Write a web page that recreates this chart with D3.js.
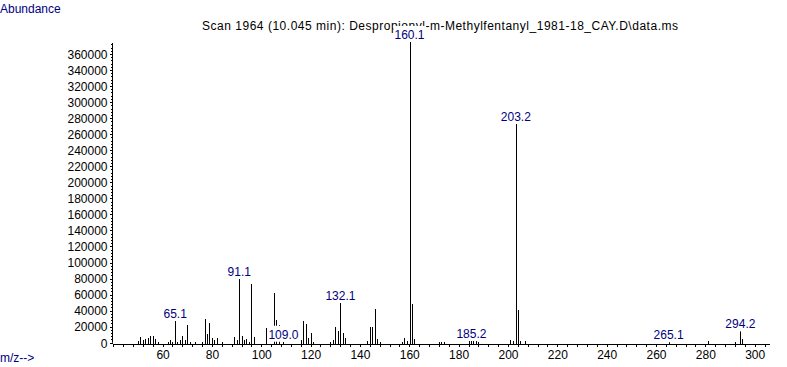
<!DOCTYPE html>
<html lang="en">
<head>
<meta charset="utf-8">
<title>Mass spectrum</title>
<script src="https://cdnjs.cloudflare.com/ajax/libs/d3/7.8.5/d3.min.js"></script>
<style>
  body { margin: 0; background: #fff; }
  svg text { font-family: "Liberation Sans", Arial, sans-serif; font-size: 12px; }
  .axis path, .axis line { stroke: #000; shape-rendering: crispEdges; }
  .axis text { fill: #000; }
  .blue { fill: #000080; }
</style>
</head>
<body>
<div id="chart"></div>
<script>
const width = 787, height = 367;

// m/z of every peak and its abundance
const mz = [50, 51, 52, 53, 54, 55, 56, 57, 58, 62, 63, 64, 65.1, 66, 67, 68, 69, 70, 71, 73,
  76, 77, 78, 79, 80, 81, 82, 84, 89, 90, 91.1, 92, 93, 94, 95, 96, 97, 102, 105.1, 106, 107,
  109.0, 116, 117, 118, 119, 120, 121, 128, 129, 130, 131, 132.1, 133, 134, 143, 144, 145, 146,
  147, 148, 157, 158, 159, 160.1, 161, 162, 172, 173, 174, 184, 185.2, 186, 187, 188, 201, 202,
  203.2, 204, 205, 207, 265.1, 281, 292, 294.2, 295];
const abundance = [1600, 7100, 3300, 4600, 5900, 7900, 8300, 4600, 1200, 1200, 3300, 1200, 27000,
  1200, 3700, 8300, 2900, 22000, 1200, 1200, 1200, 29500, 10800, 24900, 6200, 3300, 5900, 1200,
  7100, 3300, 79400, 8300, 2900, 4600, 1200, 73600, 7100, 18300, 61500, 28300, 22000, 1200, 3300,
  27000, 23300, 5900, 12100, 1200, 1200, 3300, 19600, 15000, 49500, 12500, 6200, 2500, 19600,
  19600, 42000, 5000, 1200, 1200, 5900, 2100, 375000, 48600, 4600, 1200, 1200, 800, 2100, 2100,
  2100, 2100, 800, 3300, 2100, 272700, 40700, 2100, 2100, 600, 1600, 1200, 14100, 4100];

// peaks that carry a label
const labelled = [65.1, 91.1, 109.0, 132.1, 160.1, 185.2, 203.2, 265.1, 294.2];

const xTicks = d3.range(60, 301, 20);
const yTicks = d3.range(0, 360001, 20000);
const title = "Scan 1964 (10.045 min): Despropionyl-m-Methylfentanyl_1981-18_CAY.D\\data.ms";

const peaks = mz.map((m, i) => ({mz: m, ab: abundance[i]}));

const x = d3.scaleLinear().domain([39.5, 305.8]).range([112, 769]);
const y = d3.scaleLinear().domain([0, 373700]).range([342.7, 43]);

const svg = d3.select("#chart").append("svg")
  .attr("width", width)
  .attr("height", height);

// y axis: labelled ticks plus small ones
svg.append("g")
  .attr("class", "axis")
  .attr("transform", "translate(112.5,0)")
  .call(d3.axisLeft(y).tickValues(d3.range(0, 373700, 4000)).tickSize(2).tickFormat(""))
  .call(g => g.select(".domain").remove());

svg.append("g")
  .attr("class", "axis")
  .attr("transform", "translate(112.5,0)")
  .call(d3.axisLeft(y).tickValues(yTicks).tickSize(3).tickPadding(2).tickFormat(d3.format("d")))
  .call(g => g.select(".domain").remove())
  .call(g => g.selectAll("text").attr("dy", "0.36em"));

svg.append("line")
  .attr("class", "axis")
  .attr("x1", 112.5).attr("x2", 112.5)
  .attr("y1", y(0)).attr("y2", y.range()[1])
  .attr("stroke", "#000");

// x axis
svg.append("g")
  .attr("class", "axis")
  .attr("transform", `translate(0,${Math.round(y(0)) + 0.5})`)
  .call(d3.axisBottom(x).tickValues(d3.range(40, 306, 4)).tickSize(3).tickSizeOuter(0).tickFormat(""));

svg.append("g")
  .attr("class", "axis")
  .attr("transform", `translate(0,${Math.round(y(0)) + 0.5})`)
  .call(d3.axisBottom(x).tickValues(xTicks).tickSize(3).tickPadding(4))
  .call(g => g.select(".domain").remove());

// title
svg.append("text")
  .attr("x", 202)
  .attr("y", 30)
  .attr("fill", "#000")
  .attr("textLength", 476)
  .attr("lengthAdjust", "spacing")
  .text(title);

// peaks
svg.append("g")
  .selectAll("line")
  .data(peaks)
  .join("line")
  .attr("x1", d => Math.round(x(d.mz)) + 0.5)
  .attr("x2", d => Math.round(x(d.mz)) + 0.5)
  .attr("y1", Math.round(y(0)) + 0.5)
  .attr("y2", d => y(d.ab))
  .attr("stroke", "#000")
  .attr("stroke-width", 1)
  .attr("shape-rendering", "crispEdges");

// peak labels, each on a white box that hides what is behind it
const labels = svg.append("g")
  .selectAll("g")
  .data(peaks.filter(d => labelled.includes(d.mz)))
  .join("g");

labels.append("text")
  .attr("class", "blue")
  .attr("x", d => x(d.mz))
  .attr("y", d => y(d.ab) - 3)
  .attr("text-anchor", "middle")
  .text(d => d.mz.toFixed(1));

labels.each(function() {
  const g = d3.select(this);
  const b = g.select("text").node().getBBox();
  g.insert("rect", "text")
    .attr("x", b.x - 1)
    .attr("y", b.y - 2)
    .attr("width", b.width + 2)
    .attr("height", b.height + 2)
    .attr("fill", "#fff");
});

svg.append("text").attr("class", "blue").attr("x", 0).attr("y", 13).text("Abundance");
svg.append("text").attr("class", "blue").attr("x", 0).attr("y", 362).text("m/z-->");
</script>
</body>
</html>
